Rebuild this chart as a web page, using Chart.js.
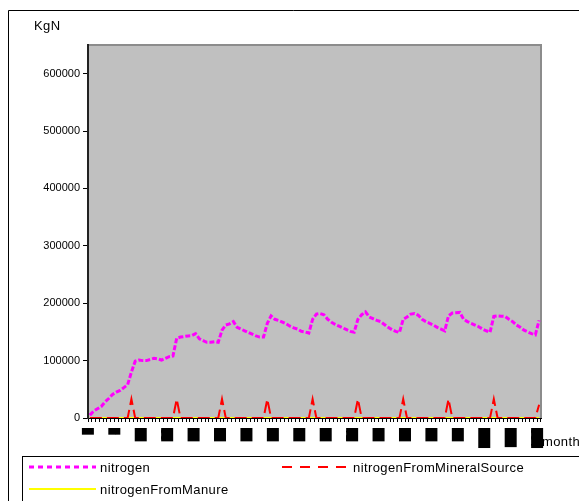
<!DOCTYPE html>
<html>
<head>
<meta charset="utf-8">
<script src="https://cdn.jsdelivr.net/npm/chart.js@4.4.1/dist/chart.umd.min.js"></script>
<style>
  html, body { margin: 0; padding: 0; background: #fff; }
  canvas { display: block; }
</style>
</head>
<body>
<canvas id="chart" width="579" height="501"></canvas>
<script>
Chart.defaults.font.family = "'Liberation Sans', Arial, sans-serif";
Chart.defaults.color = '#000';

const COLORS = {
  magenta: '#ff00ff',
  red: '#ff0000',
  yellow: '#ffff00',
  plot: '#c0c0c0',
  plotEdge: '#8c8c8c',
};

// month index on the category axis
const months = [
  1, 2, 3, 4, 5, 6, 7, 8, 9, 10, 11, 12,
  13, 14, 15, 16, 17, 18, 19, 20, 21, 22, 23, 24,
  25, 26, 27, 28, 29, 30, 31, 32, 33, 34, 35, 36,
  37, 38, 39, 40, 41, 42, 43, 44, 45, 46, 47, 48,
  49, 50, 51, 52, 53, 54, 55, 56, 57, 58, 59, 60,
  61, 62, 63, 64, 65, 66, 67, 68, 69, 70, 71, 72,
  73, 74, 75, 76, 77, 78, 79, 80, 81, 82, 83, 84,
  85, 86, 87, 88, 89, 90, 91, 92, 93, 94, 95, 96,
  97, 98, 99, 100, 101, 102, 103, 104, 105, 106, 107, 108,
  109, 110, 111, 112, 113, 114, 115, 116, 117, 118, 119, 120,
];

// months that carry a label on the x axis
const shownMonths = [1, 8, 15, 22, 29, 36, 43, 50, 57, 64, 71, 78, 85, 92, 99, 106, 113, 120];

const yTicks = [0, 100000, 200000, 300000, 400000, 500000, 600000];

const nitrogen = [
  5000, 12000, 16000, 20000, 28000, 34000, 41000, 45000, 48000, 53000, 58000, 80000,
  99000, 101000, 100000, 100000, 102000, 104000, 103000, 101000, 104000, 107000, 108000, 139000,
  141000, 142000, 143000, 143500, 147000, 138000, 135000, 132000, 132000, 133000, 132000, 153000,
  162000, 164000, 168000, 158000, 155000, 152000, 149000, 146000, 143000, 141000, 141000, 165000,
  178000, 172000, 170000, 167000, 164000, 160000, 157000, 155000, 151000, 150000, 148000, 172000,
  181000, 182000, 180000, 172000, 167000, 163000, 160000, 157000, 154000, 151000, 149500, 172000,
  180000, 185000, 176000, 173000, 170000, 168000, 163000, 158000, 154000, 151000, 149000, 172000,
  176000, 181000, 182000, 179000, 172000, 168000, 165000, 162000, 158000, 155000, 152000, 178000,
  183000, 183500, 184000, 172000, 168000, 165000, 162000, 159000, 155000, 152000, 149500, 177000,
  178000, 177500, 177000, 172000, 168000, 162000, 158000, 153000, 150000, 147000, 145000, 170000,
];

const nitrogenFromMineralSource = [
  0, 0, 0, 0, 0, 0, 0, 0, 0, 0, 0, 33000,
  0, 0, 0, 0, 0, 0, 0, 0, 0, 0, 0, 33000,
  0, 0, 0, 0, 0, 0, 0, 0, 0, 0, 0, 33000,
  0, 0, 0, 0, 0, 0, 0, 0, 0, 0, 0, 33000,
  0, 0, 0, 0, 0, 0, 0, 0, 0, 0, 0, 33000,
  0, 0, 0, 0, 0, 0, 0, 0, 0, 0, 0, 33000,
  0, 0, 0, 0, 0, 0, 0, 0, 0, 0, 0, 33000,
  0, 0, 0, 0, 0, 0, 0, 0, 0, 0, 0, 33000,
  0, 0, 0, 0, 0, 0, 0, 0, 0, 0, 0, 33000,
  0, 0, 0, 0, 0, 0, 0, 0, 0, 0, 0, 23000,
];

const nitrogenFromManure = [
  0, 0, 0, 0, 0, 0, 0, 0, 0, 0, 0, 0,
  0, 0, 0, 0, 0, 0, 0, 0, 0, 0, 0, 0,
  0, 0, 0, 0, 0, 0, 0, 0, 0, 0, 0, 0,
  0, 0, 0, 0, 0, 0, 0, 0, 0, 0, 0, 0,
  0, 0, 0, 0, 0, 0, 0, 0, 0, 0, 0, 0,
  0, 0, 0, 0, 0, 0, 0, 0, 0, 0, 0, 0,
  0, 0, 0, 0, 0, 0, 0, 0, 0, 0, 0, 0,
  0, 0, 0, 0, 0, 0, 0, 0, 0, 0, 0, 0,
  0, 0, 0, 0, 0, 0, 0, 0, 0, 0, 0, 0,
  0, 0, 0, 0, 0, 0, 0, 0, 0, 0, 0, 0,
];

const legendItems = [
  { label: 'nitrogen', color: COLORS.magenta, dash: [5, 4], width: 3, x: 29, y: 467 },
  { label: 'nitrogenFromMineralSource', color: COLORS.red, dash: [10, 8], width: 2, x: 282, y: 467 },
  { label: 'nitrogenFromManure', color: COLORS.yellow, dash: [], width: 2, x: 29, y: 489 },
];

// grey plot area, outer frame, axis titles and the boxed legend
const decor = {
  id: 'decor',
  beforeDraw(chart) {
    const { ctx, chartArea: a } = chart;
    ctx.save();
    ctx.fillStyle = COLORS.plot;
    ctx.fillRect(a.left, a.top, a.right - a.left, a.bottom - a.top);
    ctx.strokeStyle = COLORS.plotEdge;
    ctx.lineWidth = 2;
    ctx.beginPath();
    ctx.moveTo(a.left, a.top);
    ctx.lineTo(a.right, a.top);
    ctx.lineTo(a.right, a.bottom);
    ctx.stroke();

    ctx.strokeStyle = '#000';
    ctx.lineWidth = 1;
    ctx.beginPath();
    ctx.moveTo(8.5, 501);
    ctx.lineTo(8.5, 10.5);
    ctx.lineTo(579, 10.5);
    ctx.stroke();
    ctx.restore();
  },
  afterDraw(chart) {
    const ctx = chart.ctx;
    ctx.save();
    ctx.fillStyle = '#000';
    ctx.font = "13px 'Liberation Sans', Arial, sans-serif";
    ctx.letterSpacing = '0.4px';
    ctx.textBaseline = 'alphabetic';
    ctx.fillText('KgN', 34, 30);
    ctx.fillText('month', 542, 446);

    ctx.strokeStyle = '#000';
    ctx.lineWidth = 1;
    ctx.strokeRect(22.5, 456.5, 620, 80);

    ctx.textBaseline = 'middle';
    legendItems.forEach(it => {
      ctx.strokeStyle = it.color;
      ctx.lineWidth = it.width;
      ctx.setLineDash(it.dash);
      ctx.beginPath();
      ctx.moveTo(it.x, it.y);
      ctx.lineTo(it.x + 67, it.y);
      ctx.stroke();
      ctx.setLineDash([]);
      ctx.fillStyle = '#000';
      ctx.fillText(it.label, it.x + 71, it.y + 1);
    });
    ctx.restore();
  }
};

new Chart(document.getElementById('chart'), {
  type: 'line',
  data: {
    labels: months,
    datasets: [
      {
        label: 'nitrogen',
        data: nitrogen,
        borderColor: COLORS.magenta,
        borderWidth: 3,
        borderDash: [5, 2],
        pointRadius: 0,
        tension: 0,
      },
      {
        label: 'nitrogenFromMineralSource',
        data: nitrogenFromMineralSource,
        borderColor: COLORS.red,
        borderWidth: 2,
        borderDash: [12, 5],
        pointRadius: 0,
        tension: 0,
      },
      {
        label: 'nitrogenFromManure',
        data: nitrogenFromManure,
        borderColor: COLORS.yellow,
        borderWidth: 2,
        pointRadius: 0,
        tension: 0,
      }
    ]
  },
  options: {
    responsive: false,
    animation: false,
    layout: { padding: { top: 45, right: 38, left: 0, bottom: 0 } },
    plugins: {
      legend: { display: false },
      tooltip: { enabled: false },
    },
    scales: {
      x: {
        type: 'category',
        offset: true,
        afterFit: s => { s.height = 83; },
        grid: {
          offset: true,
          drawOnChartArea: false,
          color: '#000',
          tickLength: 4,
        },
        border: { color: '#000', width: 1 },
        ticks: {
          autoSkip: false,
          minRotation: 90,
          maxRotation: 90,
          padding: 6,
          labelOffset: -8,
          color: '#000',
          font: { size: 12, lineHeight: 1 },
          showLabelBackdrop: true,
          backdropColor: '#000',
          backdropPadding: 0,
          callback: (v, i) => shownMonths.includes(months[i]) ? String(months[i]) : '',
        }
      },
      y: {
        min: 0,
        max: 650000,
        afterFit: s => { s.width = 88; },
        afterBuildTicks: s => { s.ticks = yTicks.map(v => ({ value: v })); },
        grid: {
          drawOnChartArea: false,
          color: '#000',
          tickLength: 5,
        },
        border: { color: '#222', width: 2 },
        ticks: {
          padding: 3,
          color: '#000',
          font: { size: 11 },
          callback: v => String(v),
        }
      }
    }
  },
  plugins: [decor]
});
</script>
</body>
</html>
